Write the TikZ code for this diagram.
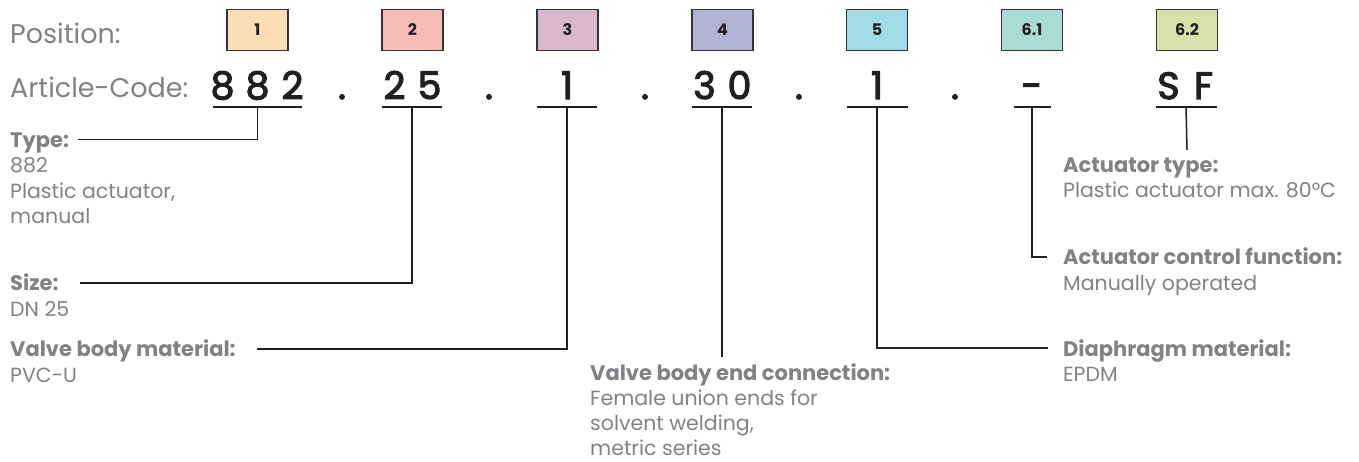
\documentclass[tikz,border=0pt]{standalone}
\usepackage{fontspec}
\setmainfont{Poppins}
\newfontfamily\codefont{Poppins}[FakeBold=3]
\definecolor{labelgray}{HTML}{808285}
\definecolor{codeblack}{HTML}{231F20}
\definecolor{linecol}{HTML}{231F20}
\definecolor{boxline}{HTML}{333333}
\definecolor{cA}{HTML}{FDDDB5}
\definecolor{cB}{HTML}{F7BCB5}
\definecolor{cC}{HTML}{D9B7CC}
\definecolor{cD}{HTML}{B0B3D3}
\definecolor{cE}{HTML}{A2DAE6}
\definecolor{cF}{HTML}{AADCD5}
\definecolor{cG}{HTML}{D8E1AA}
\newcommand{\dg}[1]{\makebox[35pt]{#1}}
\begin{document}
\begin{tikzpicture}[x=1pt,y=-1pt,
  posbox/.style={draw=boxline, line width=1.5pt, minimum width=61pt, minimum height=41pt, inner sep=0pt,
    font=\fontsize{16}{16}\selectfont\bfseries, text=codeblack},
  codetxt/.style={font=\codefont\fontsize{38}{38}\selectfont, text=codeblack, inner sep=0pt, anchor=base},
  headtxt/.style={font=\fontsize{27}{27}\selectfont, text=labelgray, inner sep=0pt, anchor=base west},
  ttl/.style={font=\fontsize{21}{21}\selectfont\bfseries, text=labelgray, inner sep=0pt, anchor=base west},
  body/.style={font=\fontsize{20.5}{20.5}\selectfont, text=labelgray, inner sep=0pt, anchor=base west},
  conn/.style={draw=linecol, line width=1.5pt}]
\useasboundingbox (0,0) rectangle (1359,461);
% headings
\node[headtxt] (posH) at (10,43) {Position:};
\node[headtxt] (artH) at (10,97) {Article-Code:};
% position boxes
\node[posbox, fill=cA] (p1) at (257.5,30) {1};
\node[posbox, fill=cB] (p2) at (412.5,30) {2};
\node[posbox, fill=cC] (p3) at (567.5,30) {3};
\node[posbox, fill=cD] (p4) at (722.5,30) {4};
\node[posbox, fill=cE] (p5) at (877,30) {5};
\node[posbox, fill=cF] (p6) at (1032,30) {6.1};
\node[posbox, fill=cG] (p7) at (1187,30) {6.2};
% code groups
\node[codetxt] (g1) at (257.5,99) {\dg{8}\dg{8}\dg{2}};
\node[codetxt] (g2) at (412,99) {\dg{2}\dg{5}};
\node[codetxt] (g3) at (567,99) {1};
\node[codetxt] (g4) at (722,99) {\dg{3}\dg{0}};
\node[codetxt] (g5) at (877,99) {1};
\node[codetxt] (g6) at (1032,99) {-};
\node[codetxt] (g7) at (1186,99) {\dg{S}\dg{F}};
% dots
\node[codetxt] (d1) at (342,99) {.};
\node[codetxt] (d2) at (489,99) {.};
\node[codetxt] (d3) at (645,99) {.};
\node[codetxt] (d4) at (799,99) {.};
\node[codetxt] (d5) at (955,99) {.};
% underlines
\draw[conn] ([xshift=-44.5pt,yshift=-8pt]g1.base) -- ([xshift=44.5pt,yshift=-8pt]g1.base);
\draw[conn] ([xshift=-30pt,yshift=-8pt]g2.base) -- ([xshift=30pt,yshift=-8pt]g2.base);
\draw[conn] ([xshift=-30pt,yshift=-8pt]g3.base) -- ([xshift=30pt,yshift=-8pt]g3.base);
\draw[conn] ([xshift=-30pt,yshift=-8pt]g4.base) -- ([xshift=30pt,yshift=-8pt]g4.base);
\draw[conn] ([xshift=-30.5pt,yshift=-8pt]g5.base) -- ([xshift=30.5pt,yshift=-8pt]g5.base);
\draw[conn] ([xshift=-18.5pt,yshift=-8pt]g6.base) -- ([xshift=18.5pt,yshift=-8pt]g6.base);
\draw[conn] ([xshift=-30.5pt,yshift=-8pt]g7.base) -- ([xshift=30.5pt,yshift=-8pt]g7.base);
% labels
\node[ttl] (typeT) at (10,147) {Type:};
\node[body] (type1) at (10,172.5) {882};
\node[body] (type2) at (10,198) {Plastic actuator,};
\node[body] (type3) at (10,223.5) {manual};
\node[ttl] (sizeT) at (10,290.5) {Size:};
\node[body] (size1) at (10,316) {DN 25};
\node[ttl] (matT) at (10,356.5) {Valve body material:};
\node[body] (mat1) at (10,382) {PVC-U};
\node[ttl] (endT) at (590,380.5) {Valve body end connection:};
\node[body] (end1) at (590,405.5) {Female union ends for};
\node[body] (end2) at (590,430.5) {solvent welding,};
\node[body] (end3) at (590,455) {metric series};
\node[ttl] (actT) at (1063,172) {Actuator type:};
\node[body] (act1) at (1063,197.5) {Plastic actuator max. 80°C};
\node[ttl] (ctlT) at (1063,264.5) {Actuator control function:};
\node[body] (ctl1) at (1063,290) {Manually operated};
\node[ttl] (diaT) at (1063,356) {Diaphragm material:};
\node[body] (dia1) at (1063,381.5) {EPDM};
% connector ends
\coordinate (typeL) at (78,139.5);
\coordinate (sizeL) at (80,283);
\coordinate (matL) at (257,349);
\coordinate (endB) at (722,357);
\coordinate (diaR) at (1048,348);
\coordinate (ctlR) at (1047,257);
\coordinate (actB) at (1187,150);
% connectors
\draw[conn] ([yshift=-8pt]g1.base) |- (typeL);
\draw[conn] ([yshift=-8pt]g2.base) |- (sizeL);
\draw[conn] ([yshift=-8pt]g3.base) |- (matL);
\draw[conn] ([yshift=-8pt]g4.base) -- (endB);
\draw[conn] ([yshift=-8pt]g5.base) |- (diaR);
\draw[conn] ([yshift=-8pt]g6.base) |- (ctlR);
\draw[conn] ([yshift=-8pt]g7.base) -- (actB);
\end{tikzpicture}
\end{document}
